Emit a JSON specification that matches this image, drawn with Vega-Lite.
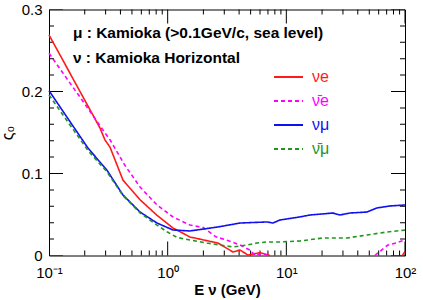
{
  "$schema": "https://vega.github.io/schema/vega-lite/v6.json",
  "width": 356,
  "height": 246,
  "autosize": {"type": "none"},
  "padding": {"left": 49, "top": 9.5, "right": 18, "bottom": 44.5},
  "config": {
    "view": {"stroke": "black", "strokeWidth": 1},
    "font": "Liberation Sans",
    "axis": {"grid": false, "domain": false, "tickColor": "black", "labelColor": "black", "titleColor": "black", "labelFont": "Liberation Sans", "titleFont": "Liberation Sans", "labelFontSize": 15, "labelOverlap": false, "labelFlush": false, "tickWidth": 1}
  },
  "datasets": {
    "curves": [
      {"E": 0.1, "v": 0.269, "s": "νe"}, {"E": 0.269, "v": 0.1555, "s": "νe"}, {"E": 0.296, "v": 0.141, "s": "νe"}, {"E": 0.327, "v": 0.132, "s": "νe"}, {"E": 0.42, "v": 0.092, "s": "νe"}, {"E": 0.585, "v": 0.068, "s": "νe"}, {"E": 0.813, "v": 0.049, "s": "νe"}, {"E": 1.11, "v": 0.0335, "s": "νe"}, {"E": 1.54, "v": 0.0226, "s": "νe"}, {"E": 2.65, "v": 0.0152, "s": "νe"}, {"E": 3.55, "v": 0.0043, "s": "νe"}, {"E": 4.07, "v": 0.0067, "s": "νe"}, {"E": 4.75, "v": 0.0006, "s": "νe"}, {"E": 6.0, "v": 0.0034, "s": "νe"}, {"E": 7.28, "v": 0, "s": "νe"}, {"E": 8, "v": null, "s": "νe"}, {"E": 94, "v": null, "s": "νe"}, {"E": 95, "v": 0, "s": "νe"}, {"E": 100, "v": 0.005, "s": "νe"},
      {"E": 0.1, "v": 0.2466, "s": "ν̄e"}, {"E": 0.209, "v": 0.181, "s": "ν̄e"}, {"E": 0.285, "v": 0.153, "s": "ν̄e"}, {"E": 0.327, "v": 0.141, "s": "ν̄e"}, {"E": 0.436, "v": 0.11, "s": "ν̄e"}, {"E": 0.585, "v": 0.0835, "s": "ν̄e"}, {"E": 0.813, "v": 0.0616, "s": "ν̄e"}, {"E": 1.11, "v": 0.047, "s": "ν̄e"}, {"E": 1.54, "v": 0.0372, "s": "ν̄e"}, {"E": 2.0, "v": 0.034, "s": "ν̄e"}, {"E": 2.55, "v": 0.0228, "s": "ν̄e"}, {"E": 3.1, "v": 0.019, "s": "ν̄e"}, {"E": 4.07, "v": 0.0128, "s": "ν̄e"}, {"E": 4.93, "v": 0.0067, "s": "ν̄e"}, {"E": 5.45, "v": 0.0, "s": "ν̄e"}, {"E": 6.0, "v": 0.002, "s": "ν̄e"}, {"E": 7.3, "v": 0, "s": "ν̄e"}, {"E": 8, "v": null, "s": "ν̄e"}, {"E": 55, "v": null, "s": "ν̄e"}, {"E": 55.7, "v": 0, "s": "ν̄e"}, {"E": 71.8, "v": 0.0128, "s": "ν̄e"}, {"E": 82.2, "v": 0.015, "s": "ν̄e"}, {"E": 100, "v": 0.019, "s": "ν̄e"},
      {"E": 0.1, "v": 0.201, "s": "νμ"}, {"E": 0.213, "v": 0.131, "s": "νμ"}, {"E": 0.308, "v": 0.104, "s": "νμ"}, {"E": 0.42, "v": 0.0738, "s": "νμ"}, {"E": 0.585, "v": 0.053, "s": "νμ"}, {"E": 0.813, "v": 0.0396, "s": "νμ"}, {"E": 1.11, "v": 0.0311, "s": "νμ"}, {"E": 1.54, "v": 0.0299, "s": "νμ"}, {"E": 2.65, "v": 0.0348, "s": "νμ"}, {"E": 4.07, "v": 0.0396, "s": "νμ"}, {"E": 6.87, "v": 0.0409, "s": "νμ"}, {"E": 7.71, "v": 0.0396, "s": "νμ"}, {"E": 8.83, "v": 0.0433, "s": "νμ"}, {"E": 13.0, "v": 0.047, "s": "νμ"}, {"E": 15.8, "v": 0.0494, "s": "νμ"}, {"E": 24.7, "v": 0.0518, "s": "νμ"}, {"E": 28.3, "v": 0.0494, "s": "νμ"}, {"E": 34.4, "v": 0.0518, "s": "νμ"}, {"E": 47.8, "v": 0.053, "s": "νμ"}, {"E": 58.0, "v": 0.058, "s": "νμ"}, {"E": 74.6, "v": 0.0604, "s": "νμ"}, {"E": 100, "v": 0.0616, "s": "νμ"},
      {"E": 0.1, "v": 0.1957, "s": "ν̄μ"}, {"E": 0.213, "v": 0.128, "s": "ν̄μ"}, {"E": 0.308, "v": 0.102, "s": "ν̄μ"}, {"E": 0.42, "v": 0.073, "s": "ν̄μ"}, {"E": 0.585, "v": 0.052, "s": "ν̄μ"}, {"E": 0.813, "v": 0.037, "s": "ν̄μ"}, {"E": 0.987, "v": 0.029, "s": "ν̄μ"}, {"E": 1.2, "v": 0.022, "s": "ν̄μ"}, {"E": 1.54, "v": 0.0189, "s": "ν̄μ"}, {"E": 2.14, "v": 0.0152, "s": "ν̄μ"}, {"E": 2.76, "v": 0.0128, "s": "ν̄μ"}, {"E": 3.55, "v": 0.0104, "s": "ν̄μ"}, {"E": 4.66, "v": 0.0128, "s": "ν̄μ"}, {"E": 5.65, "v": 0.0152, "s": "ν̄μ"}, {"E": 6.87, "v": 0.0165, "s": "ν̄μ"}, {"E": 8.83, "v": 0.0165, "s": "ν̄μ"}, {"E": 13.0, "v": 0.0177, "s": "ν̄μ"}, {"E": 20.3, "v": 0.0213, "s": "ν̄μ"}, {"E": 32.4, "v": 0.0213, "s": "ν̄μ"}, {"E": 47.8, "v": 0.025, "s": "ν̄μ"}, {"E": 70.5, "v": 0.0287, "s": "ν̄μ"}, {"E": 100, "v": 0.031, "s": "ν̄μ"}
    ],
    "notes": [
      {"E": 0.159, "v": 0.2713, "t": "μ : Kamioka (>0.1GeV/c, sea level)"},
      {"E": 0.159, "v": 0.2409, "t": "ν : Kamioka Horizontal"}
    ],
    "xticks": [
      {"E": 0.1, "k": "major"}, {"E": 0.2, "k": "minor"}, {"E": 0.3, "k": "minor"}, {"E": 0.4, "k": "minor"}, {"E": 0.5, "k": "minor"}, {"E": 0.6, "k": "minor"}, {"E": 0.7, "k": "minor"}, {"E": 0.8, "k": "minor"}, {"E": 0.9, "k": "minor"},
      {"E": 1, "k": "major"}, {"E": 2, "k": "minor"}, {"E": 3, "k": "minor"}, {"E": 4, "k": "minor"}, {"E": 5, "k": "minor"}, {"E": 6, "k": "minor"}, {"E": 7, "k": "minor"}, {"E": 8, "k": "minor"}, {"E": 9, "k": "minor"},
      {"E": 10, "k": "major"}, {"E": 20, "k": "minor"}, {"E": 30, "k": "minor"}, {"E": 40, "k": "minor"}, {"E": 50, "k": "minor"}, {"E": 60, "k": "minor"}, {"E": 70, "k": "minor"}, {"E": 80, "k": "minor"}, {"E": 90, "k": "minor"},
      {"E": 100, "k": "major"}
    ],
    "yticks": [
      {"v": 0, "k": "major"}, {"v": 0.02, "k": "minor"}, {"v": 0.04, "k": "minor"}, {"v": 0.06, "k": "minor"}, {"v": 0.08, "k": "minor"},
      {"v": 0.1, "k": "major"}, {"v": 0.12, "k": "minor"}, {"v": 0.14, "k": "minor"}, {"v": 0.16, "k": "minor"}, {"v": 0.18, "k": "minor"},
      {"v": 0.2, "k": "major"}, {"v": 0.22, "k": "minor"}, {"v": 0.24, "k": "minor"}, {"v": 0.26, "k": "minor"}, {"v": 0.28, "k": "minor"},
      {"v": 0.3, "k": "major"}
    ]
  },
  "layer": [
    {
      "data": {"name": "notes"},
      "mark": {"type": "text", "align": "left", "baseline": "middle", "fontSize": 15.5, "fontWeight": "bold", "font": "Liberation Sans", "color": "black"},
      "encoding": {
        "x": {"field": "E", "type": "quantitative", "scale": {"type": "log", "domain": [0.1, 100], "nice": false},
          "axis": {"orient": "bottom", "values": [0.1, 1, 10, 100], "tickSize": 0,
            "labelExpr": "datum.value == 0.1 ? '10⁻¹' : datum.value == 1 ? '10⁰' : datum.value == 10 ? '10¹' : '10²'",
            "labelPadding": 10, "title": "E ν (GeV)", "titleFontSize": 15, "titleFontWeight": "bold", "titlePadding": 2}},
        "y": {"field": "v", "type": "quantitative", "scale": {"domain": [0, 0.3], "nice": false, "zero": false},
          "axis": {"orient": "left", "values": [0, 0.1, 0.2, 0.3], "tickSize": 0,
            "labelExpr": "datum.value == 0 ? '0' : format(datum.value, '.1f')",
            "labelPadding": 7, "title": "ς₀", "titleFontSize": 16, "titleFontWeight": "normal", "titlePadding": 6}},
        "text": {"field": "t"}
      }
    },
    {
      "data": {"name": "xticks"},
      "mark": {"type": "tick", "orient": "vertical", "clip": true, "color": "black", "thickness": 1, "opacity": 1},
      "encoding": {
        "x": {"field": "E", "type": "quantitative", "scale": {"type": "log", "domain": [0.1, 100], "nice": false}, "axis": null},
        "y": {"datum": 0, "type": "quantitative", "scale": {"domain": [0, 0.3], "nice": false, "zero": false}, "axis": null},
        "size": {"field": "k", "type": "nominal", "scale": {"domain": ["major", "minor"], "range": [28, 10]}, "legend": null}
      }
    },
    {
      "data": {"name": "xticks"},
      "mark": {"type": "tick", "orient": "vertical", "clip": true, "color": "black", "thickness": 1, "opacity": 1},
      "encoding": {
        "x": {"field": "E", "type": "quantitative", "scale": {"type": "log", "domain": [0.1, 100], "nice": false}, "axis": null},
        "y": {"datum": 0.3, "type": "quantitative", "scale": {"domain": [0, 0.3], "nice": false, "zero": false}, "axis": null},
        "size": {"field": "k", "type": "nominal", "scale": {"domain": ["major", "minor"], "range": [28, 10]}, "legend": null}
      }
    },
    {
      "data": {"name": "yticks"},
      "mark": {"type": "tick", "orient": "horizontal", "clip": true, "color": "black", "thickness": 1, "opacity": 1},
      "encoding": {
        "y": {"field": "v", "type": "quantitative", "scale": {"domain": [0, 0.3], "nice": false, "zero": false}, "axis": null},
        "x": {"datum": 0.1, "type": "quantitative", "scale": {"type": "log", "domain": [0.1, 100], "nice": false}, "axis": null},
        "size": {"field": "k", "type": "nominal", "scale": {"domain": ["major", "minor"], "range": [28, 10]}, "legend": null}
      }
    },
    {
      "data": {"name": "yticks"},
      "mark": {"type": "tick", "orient": "horizontal", "clip": true, "color": "black", "thickness": 1, "opacity": 1},
      "encoding": {
        "y": {"field": "v", "type": "quantitative", "scale": {"domain": [0, 0.3], "nice": false, "zero": false}, "axis": null},
        "x": {"datum": 100, "type": "quantitative", "scale": {"type": "log", "domain": [0.1, 100], "nice": false}, "axis": null},
        "size": {"field": "k", "type": "nominal", "scale": {"domain": ["major", "minor"], "range": [28, 10]}, "legend": null}
      }
    },
    {
      "data": {"name": "curves"},
      "mark": {"type": "line", "strokeWidth": 1.6},
      "encoding": {
        "x": {"field": "E", "type": "quantitative", "scale": {"type": "log", "domain": [0.1, 100], "nice": false}, "axis": null},
        "y": {"field": "v", "type": "quantitative", "scale": {"domain": [0, 0.3], "nice": false, "zero": false}, "axis": null},
        "color": {"field": "s", "type": "nominal", "scale": {"domain": ["νe", "ν̄e", "νμ", "ν̄μ"], "range": ["#ff1a1a", "#ff00ff", "#1010ee", "#1f961f"]},
          "legend": {"orient": "none", "legendX": 224, "legendY": 52, "title": null, "symbolType": "stroke", "symbolSize": 841, "symbolStrokeWidth": 2, "labelFontSize": 16, "labelFont": "Liberation Sans", "rowPadding": -12, "labelOffset": 8,
            "encode": {"labels": {"update": {"fill": {"scale": "color", "field": "value"}}}}}},
        "strokeDash": {"field": "s", "type": "nominal", "scale": {"domain": ["νe", "ν̄e", "νμ", "ν̄μ"], "range": [[1, 0], [4, 3], [1, 0], [4, 3]]},
          "legend": {"orient": "none", "legendX": 224, "legendY": 52, "title": null, "symbolType": "stroke", "symbolSize": 841, "symbolStrokeWidth": 2, "labelFontSize": 16, "labelFont": "Liberation Sans", "rowPadding": -12, "labelOffset": 8,
            "encode": {"labels": {"update": {"fill": {"scale": "color", "field": "value"}}}}}}
      }
    }
  ],
  "resolve": {"axis": {"x": "independent", "y": "independent"}}
}
